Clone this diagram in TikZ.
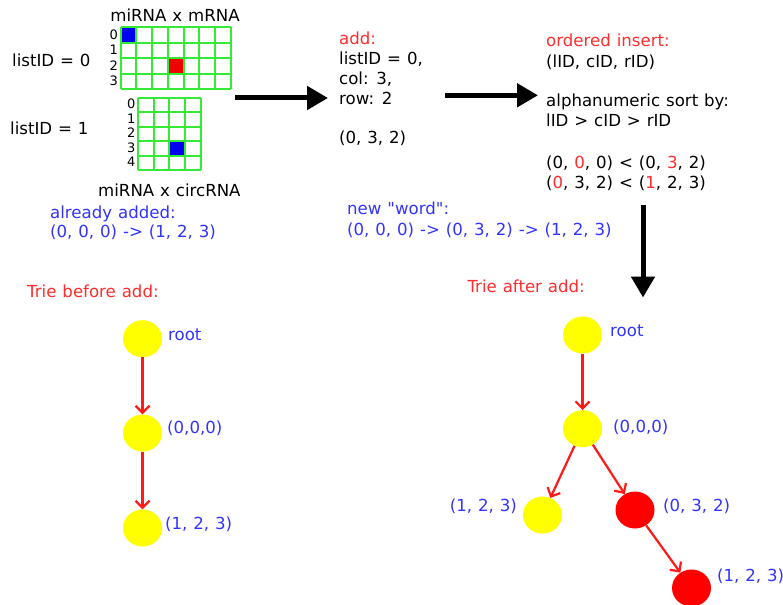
\documentclass[tikz,border=0pt]{standalone}
\usepackage{fontspec}
\setmainfont{DejaVu Sans}[WordSpace=1.12, Ligatures=TeXOff]
\usetikzlibrary{arrows.meta,shapes.geometric}

\definecolor{txtblue}{RGB}{51,51,255}
\definecolor{txtred}{RGB}{255,45,45}
\definecolor{gridgreen}{RGB}{50,235,50}
\definecolor{cellblue}{RGB}{0,0,240}
\definecolor{cellred}{RGB}{240,0,0}
\definecolor{nodeyellow}{RGB}{255,255,0}
\definecolor{nodered}{RGB}{255,0,0}
\definecolor{edgered}{RGB}{255,25,25}

\begin{document}
\begin{tikzpicture}[x=1pt,y=-1pt,
  lbl/.style={inner sep=0pt, anchor=base west, font=\fontsize{16.6}{19}\selectfont},
  lblright/.style={lbl, anchor=base east},
  rowlbl/.style={inner sep=0pt, anchor=base east, font=\fontsize{13}{14}\selectfont},
  gridline/.style={draw=gridgreen, line width=2pt},
  tnode/.style={ellipse, minimum width=39pt, minimum height=37pt, inner sep=0pt},
  yel/.style={tnode, fill=nodeyellow},
  rednode/.style={tnode, fill=nodered},
  trieedge/.style={draw=edgered, line width=2.2pt, -{Straight Barb[length=7pt,width=14pt]}},
  bigarrow/.style={line width=5pt, -{Triangle[length=21pt,width=23pt]}}
]
\useasboundingbox (0,0) rectangle (783,604);
\fill[white] (0,0) rectangle (783,604);

% ---------- miRNA x mRNA matrix (listID = 0) ----------
\fill[cellblue] (120.7,27.3) rectangle ++(15.71,15.5);
\fill[cellred] ({120.7+3*15.71},{27.3+2*15.5}) rectangle ++(15.71,15.5);
\foreach \i in {0,...,7}
  \draw[gridline] ({120.7+\i*15.71},27.3) -- ({120.7+\i*15.71},89.3);
\foreach \j in {0,...,4}
  \draw[gridline] (120.7,{27.3+\j*15.5}) -- (230.7,{27.3+\j*15.5});
\foreach \j in {0,...,3}
  \node[rowlbl] (ma\j) at (118,{27.3+\j*15.5+11.8}) {\j};

% ---------- miRNA x circRNA matrix (listID = 1) ----------
\fill[cellblue] ({137.7+2*15.83},{97.7+3*14.46}) rectangle ++(15.83,14.46);
\foreach \i in {0,...,4}
  \draw[gridline] ({137.7+\i*15.83},97.7) -- ({137.7+\i*15.83},170);
\foreach \j in {0,...,5}
  \draw[gridline] (137.7,{97.7+\j*14.46}) -- (201,{97.7+\j*14.46});
\foreach \j in {0,...,4}
  \node[rowlbl] (mb\j) at (135.5,{97.7+\j*14.46+11.2}) {\j};

% ---------- labels around the matrices ----------
\node[lbl, anchor=base] (tmrna) at (175,22) {miRNA x mRNA};
\node[lbl] (lid0) at (12,66.7) {listID = 0};
\node[lbl] (lid1) at (10,135) {listID = 1};
\node[lbl] (tcirc) at (98,196.5) {miRNA x circRNA};
\node[lbl, text=txtblue] (added1) at (50,218) {already added:};
\node[lbl, text=txtblue] (added2) at (50,237) {(0, 0, 0) -> (1, 2, 3)};

% ---------- add block ----------
\node[lbl, text=txtred] (add0) at (339,45) {add:};
\node[lbl] (add1) at (339,65) {listID = 0,};
\node[lbl] (add2) at (339,85) {col: 3,};
\node[lbl] (add3) at (339,105) {row: 2};
\node[lbl] (add4) at (339,144) {(0, 3, 2)};

% ---------- ordered insert block ----------
\node[lbl, text=txtred] (ord0) at (546,46.7) {ordered insert:};
\node[lbl] (ord1) at (546,67.5) {(lID, cID, rID)};
\node[lbl] (ord2) at (546,106.5) {alphanumeric sort by:};
\node[lbl] (ord3) at (546,126.5) {lID > cID > rID};
\node[lbl] (ord4) at (546,168) {(0, \textcolor{txtred}{0}, 0) < (0, \textcolor{txtred}{3}, 2)};
\node[lbl] (ord5) at (546,188) {(\textcolor{txtred}{0}, 3, 2) < (\textcolor{txtred}{1}, 2, 3)};

% ---------- new word ----------
\node[lbl, text=txtblue] (word0) at (347,214) {new "word":};
\node[lbl, text=txtblue] (word1) at (347,235) {(0, 0, 0) -> (0, 3, 2) -> (1, 2, 3)};

% ---------- big process arrows ----------
\coordinate (a1s) at (235,98);
\coordinate (a1e) at (328,98);
\coordinate (a2s) at (445,95.3);
\coordinate (a2e) at (538,95.3);
\coordinate (a3s) at (643,205);
\coordinate (a3e) at (643,297.5);
\draw[bigarrow] (a1s) -- (a1e);
\draw[bigarrow] (a2s) -- (a2e);
\draw[bigarrow] (a3s) -- (a3e);

% ---------- trie before add ----------
\node[lbl, text=txtred] (tbefore) at (27,297.3) {Trie before add:};
\node[yel] (broot) at (142.5,338.7) {};
\node[yel] (bn0) at (142.5,433) {};
\node[yel] (bn1) at (142.5,528) {};
\node[lbl, text=txtblue] (lbroot) at (168,340) {root};
\node[lbl, text=txtblue] (lbn0) at (167,433.3) {(0,0,0)};
\node[lbl, text=txtblue] (lbn1) at (165,529) {(1, 2, 3)};
\draw[trieedge] (broot) -- (bn0);
\draw[trieedge] (bn0) -- (bn1);

% ---------- trie after add ----------
\node[lbl, text=txtred] (tafter) at (467.3,292.7) {Trie after add:};
\node[yel] (aroot) at (582.5,335) {};
\node[yel] (an0) at (582.5,428.7) {};
\node[yel] (an1) at (542.4,515) {};
\node[rednode] (an2) at (635,510) {};
\node[rednode] (an3) at (691.5,588) {};
\node[lbl, text=txtblue] (laroot) at (610,336) {root};
\node[lbl, text=txtblue] (lan0) at (613,432.7) {(0,0,0)};
\node[lblright, text=txtblue] (lan1) at (517,511.7) {(1, 2, 3)};
\node[lbl, text=txtblue] (lan2) at (663,511.7) {(0, 3, 2)};
\node[lbl, text=txtblue] (lan3) at (717,581.7) {(1, 2, 3)};
\draw[trieedge] (aroot) -- (an0);
\draw[trieedge] (an0) -- (an1);
\draw[trieedge] (an0) -- (an2);
\draw[trieedge] (an2) -- (an3);
\end{tikzpicture}
\end{document}
